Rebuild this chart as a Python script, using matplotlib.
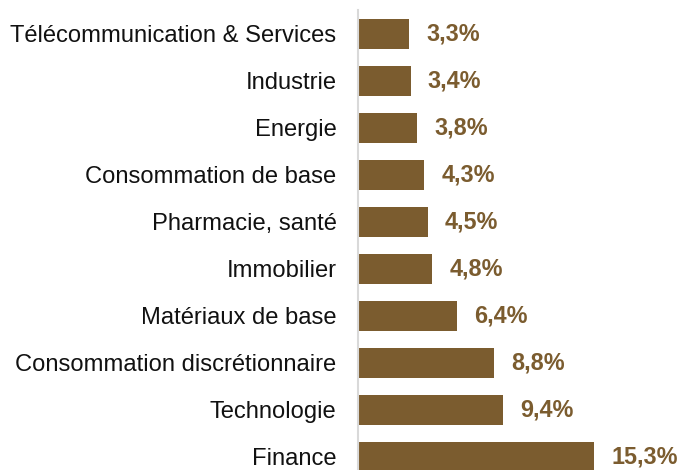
import matplotlib
matplotlib.use("Agg")
import matplotlib.pyplot as plt

categories = ["Télécommunication & Services", "Industrie", "Energie",
              "Consommation de base", "Pharmacie, santé", "Immobilier",
              "Matériaux de base", "Consommation discrétionnaire",
              "Technologie", "Finance"]
values = [3.3, 3.4, 3.8, 4.3, 4.5, 4.8, 6.4, 8.8, 9.4, 15.3]
labels = ["3,3%", "3,4%", "3,8%", "4,3%", "4,5%", "4,8%", "6,4%", "8,8%", "9,4%", "15,3%"]

brown = "#7B5C2F"
plt.rcParams['font.family'] = ['Liberation Sans', 'DejaVu Sans']

W, H = 683, 470
fig = plt.figure(figsize=(W / 100, H / 100), dpi=100)
left = 358 / W
top = 10.5 / H
ax_h = 469.6 / H
ax = fig.add_axes([left, 1 - top - ax_h, 1 - left, ax_h])

y = list(range(len(categories)))
ax.barh(y, values, height=0.64, color=brown, zorder=2)
ax.set_ylim(len(categories) - 0.5, -0.5)
ax.set_xlim(0, 325 / 15.45)

for yi, v, lab in zip(y, values, labels):
    ax.annotate(lab, xy=(v, yi), xytext=(12.5, 0), textcoords="offset points",
                ha="left", va="center", fontsize=16.8, fontweight="bold", color=brown)

ax.set_yticks(y)
ax.set_yticklabels(categories, fontsize=17.1, color="#111111")
ax.tick_params(axis="y", length=0, pad=15.5)
ax.set_xticks([])
for s in ["top", "right", "bottom"]:
    ax.spines[s].set_visible(False)
ax.spines["left"].set_color("#D9D9D9")
ax.spines["left"].set_linewidth(1.5)
ax.spines["left"].set_zorder(3)

fig.savefig("out.png", dpi=100)
